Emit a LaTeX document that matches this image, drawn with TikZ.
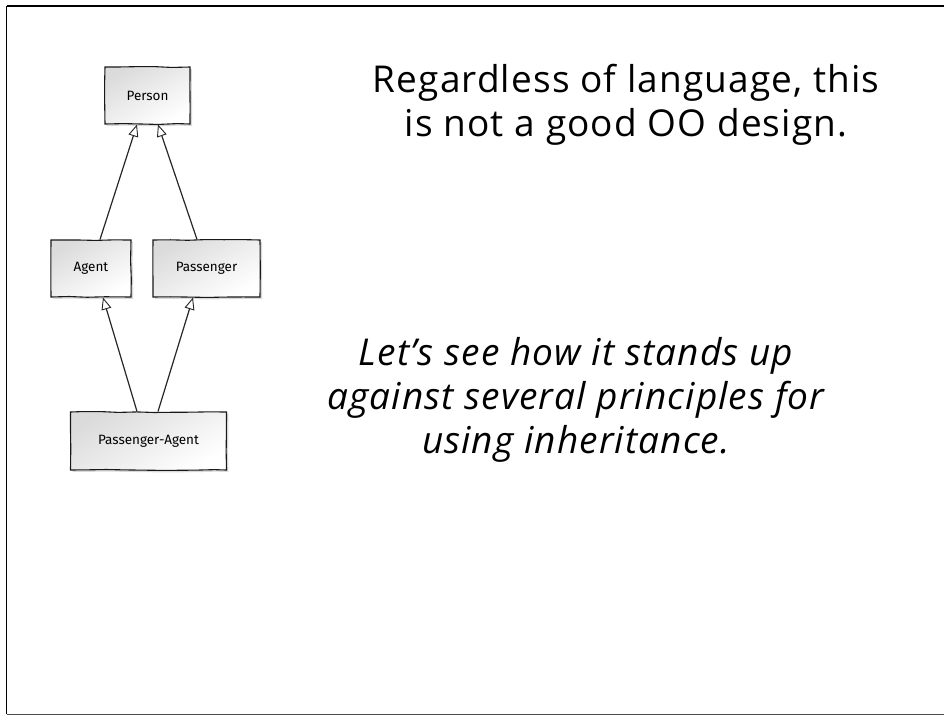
\documentclass[tikz,border=0pt]{standalone}
\usepackage{fontspec}
\setmainfont{Open Sans}[LetterSpace=3]
\newfontfamily\boxfont{Fira Sans}
\usetikzlibrary{arrows.meta,shadows,decorations.pathmorphing}
\begin{document}
\begin{tikzpicture}[x=1pt,y=-1pt,
  classbox/.style={draw=black!90, line width=1.1pt,
    top color=black!14, bottom color=white, shading angle=30,
    drop shadow={shadow xshift=2pt, shadow yshift=-2pt, fill=black!25, opacity=0.6},
    decorate, decoration={random steps, segment length=18pt, amplitude=0.5pt},
    inner sep=0pt, font=\boxfont\fontsize{13.5}{15}\selectfont},
  isa/.style={draw=black!85, line width=1.2pt,
    -{Triangle[length=12pt, width=10pt, fill=white, line width=0.9pt]}},
  slidetext/.style={align=center, font=\fontsize{37}{44}\selectfont}]
  \useasboundingbox (0,0) rectangle (944,717);
  % slide frame, open on the right
  \draw[line width=1.6pt] (944,6) -- (6.5,6);
  \draw[line width=1pt] (6.5,6) -- (6.5,714);
  \draw[line width=0.9pt, black!70] (6.5,714) -- (944,714);

  % class boxes
  \node[classbox, minimum width=85pt, minimum height=57pt] (person) at (147.5,95.5) {Person};
  \node[classbox, minimum width=80pt, minimum height=57pt] (agent) at (91,268.5) {Agent};
  \node[classbox, minimum width=107pt, minimum height=57pt] (passenger) at (206.5,268.5) {Passenger};
  \node[classbox, minimum width=156pt, minimum height=58pt] (pagent) at (148.5,441) {Passenger-Agent};

  % generalisation arrows
  \draw[isa] ([xshift=9pt]agent.north) -- ([xshift=-10.5pt]person.south);
  \draw[isa] ([xshift=-9.5pt]passenger.north) -- ([xshift=10.5pt]person.south);
  \draw[isa] ([xshift=-11.5pt]pagent.north) -- ([xshift=12pt]agent.south);
  \draw[isa] ([xshift=9.5pt]pagent.north) -- ([xshift=-13.5pt]passenger.south);

  % slide text (anchor base = baseline of the last line)
  \node[slidetext, anchor=base] (claim) at (626,136) {Regardless of language, this\\is not a good OO design.};
  \node[slidetext, anchor=base, font=\itshape\fontsize{37}{44}\selectfont] (plan) at (576,453) {Let’s see how it stands up\\against several principles for\\using inheritance.};
\end{tikzpicture}
\end{document}
